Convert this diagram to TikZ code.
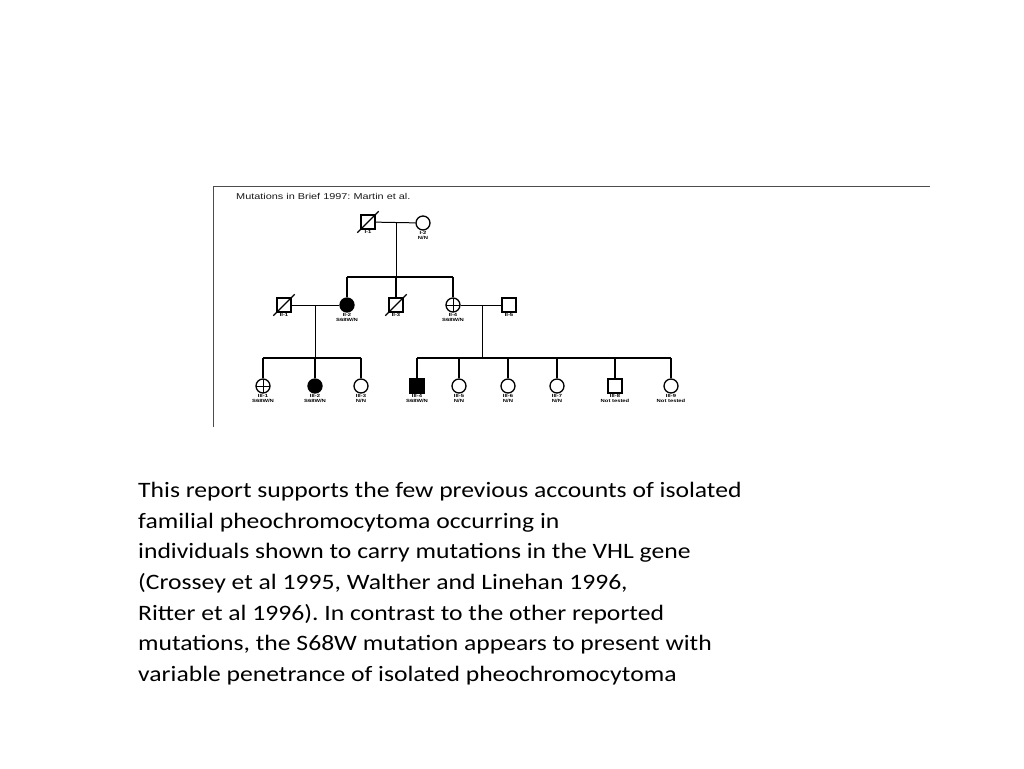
\documentclass[tikz,border=0pt]{standalone}
\usepackage{fontspec}
\setmainfont{Carlito}
\newfontfamily\reportfont[FakeStretch=1.165]{Carlito}
\newfontfamily\titlefont[FakeStretch=1.28]{Liberation Sans}
\newfontfamily\labfont[FakeStretch=1.3]{Liberation Sans}
\frenchspacing

\begin{document}
\begin{tikzpicture}[x=1pt, y=-1pt, male/.style={draw, rectangle, minimum size=14pt, inner sep=0pt, line width=1.3pt}, female/.style={draw, circle, minimum size=14pt, inner sep=0pt, line width=1.3pt}, affected/.style={fill=black}, carrier/.style={path picture={\draw[line width=1pt] (path picture bounding box.north) -- (path picture bounding box.south) (path picture bounding box.west) -- (path picture bounding box.east);}}, lab/.style={font=\labfont\bfseries\fontsize{4.5}{5}\selectfont, align=center, inner sep=1pt}, couple/.style={line width=1pt}, sibs/.style={line width=1.6pt}]

    \useasboundingbox (0,0) rectangle (1024,768);

    % frame of the scanned figure
    \coordinate (fb) at (213,427);
    \coordinate (fc) at (213,186);
    \coordinate (fr) at (930,186);
    \draw[gray!60!black, line width=1pt] (fb) -- (fc) -- (fr);
    \node[anchor=west, inner sep=0pt, font=\titlefont\fontsize{8.5}{10}\selectfont, gray!20!black] (title) at (236,196) {Mutations in Brief 1997: Martin et al.};

    % generation I
    \node[male, label={[lab]below:I-1}] (i1) at (368,222) {};
    \node[female, label={[lab]below:I-2\\N/N}] (i2) at (423,223) {};
    \coordinate (m1) at (396,223);
    \coordinate (s1) at (396,277);
    \coordinate (s1l) at (347,277);
    \coordinate (s1r) at (453,277);

    % generation II
    \node[male, label={[lab]below:II-1}] (ii1) at (284,305) {};
    \node[female, affected, label={[lab]below:II-2\\S68W/N}] (ii2) at (347,305) {};
    \node[male, label={[lab]below:II-3}] (ii3) at (396,305) {};
    \node[female, carrier, label={[lab]below:II-4\\S68W/N}] (ii4) at (453,305) {};
    \node[male, label={[lab]below:II-5}] (ii5) at (509,305) {};
    \coordinate (m2) at (315,305);
    \coordinate (s2) at (315,358);
    \coordinate (s2l) at (263,358);
    \coordinate (s2r) at (361,358);
    \coordinate (m3) at (482,305);
    \coordinate (s3) at (482,358);
    \coordinate (s3l) at (417,358);
    \coordinate (s3r) at (671,358);

    % generation III
    \node[female, carrier, label={[lab]below:III-1\\S68W/N}] (iii1) at (263,386) {};
    \node[female, affected, label={[lab]below:III-2\\S68W/N}] (iii2) at (315,386) {};
    \node[female, label={[lab]below:III-3\\N/N}] (iii3) at (361,386) {};
    \node[male, affected, label={[lab]below:III-4\\S68W/N}] (iii4) at (417,386) {};
    \node[female, label={[lab]below:III-5\\N/N}] (iii5) at (459,386) {};
    \node[female, label={[lab]below:III-6\\N/N}] (iii6) at (508,386) {};
    \node[female, label={[lab]below:III-7\\N/N}] (iii7) at (557,386) {};
    \node[male, label={[lab]below:III-8\\Not tested}] (iii8) at (615,386) {};
    \node[female, label={[lab]below:III-9\\Not tested}] (iii9) at (671,386) {};

    % deceased
    \foreach \n in {i1,ii1,ii3}
        \draw[line width=1.2pt] ([shift={(-3pt,-3pt)}]\n.south west) -- ([shift={(3pt,3pt)}]\n.north east);

    \path
        (i1) edge[couple] (i2)
        (m1) edge[couple] (s1)
        (s1l) edge[sibs] (s1r)
        (s1l) edge[sibs] (ii2)
        (s1) edge[sibs] (ii3)
        (s1r) edge[sibs] (ii4)
        (ii1) edge[couple] (ii2)
        (ii4) edge[couple] (ii5)
        (m2) edge[couple] (s2)
        (m3) edge[couple] (s3)
        (s2l) edge[sibs] (s2r)
        (s2l) edge[sibs] (iii1)
        (s2) edge[sibs] (iii2)
        (s2r) edge[sibs] (iii3)
        (s3l) edge[sibs] (s3r)
        (s3l) edge[sibs] (iii4)
        (iii5 |- s3) edge[sibs] (iii5)
        (iii6 |- s3) edge[sibs] (iii6)
        (iii7 |- s3) edge[sibs] (iii7)
        (iii8 |- s3) edge[sibs] (iii8)
        (s3r) edge[sibs] (iii9)
        ;

    % report text
    \node[anchor=north west, align=left, inner sep=0pt, font=\reportfont\fontsize{22}{30.7}\selectfont] (report) at (138,482) {This report supports the few previous accounts of isolated\\familial pheochromocytoma occurring in\\individuals shown to carry mutations in the VHL gene\\(Crossey et al 1995, Walther and Linehan 1996,\\Ritter et al 1996). In contrast to the other reported\\mutations, the S68W mutation appears to present with\\variable penetrance of isolated pheochromocytoma};
\end{tikzpicture}
\end{document}
